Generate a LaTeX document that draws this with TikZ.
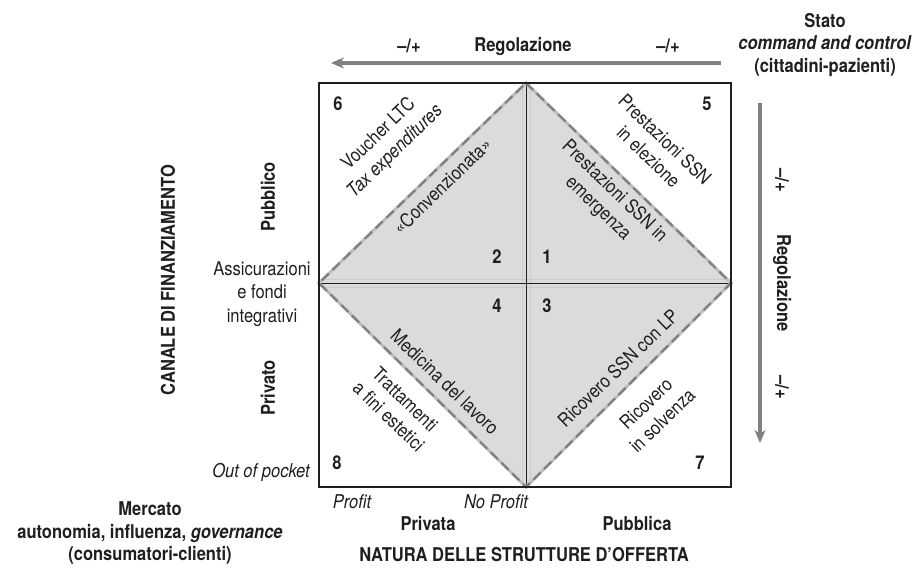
\documentclass[tikz,border=0pt]{standalone}
\usepackage{fontspec}
\setmainfont{TeX Gyre Heros}[FakeStretch=0.87]
\usetikzlibrary{arrows.meta}
\definecolor{arrowgray}{gray}{0.5}
\definecolor{diafill}{gray}{0.86}
\definecolor{edgelight}{gray}{0.74}
\definecolor{edgedark}{gray}{0.5}
\definecolor{inkc}{gray}{0.12}
\begin{document}
\begin{tikzpicture}[x=1pt,y=-1pt,
  nt/.style={font=\fontsize{19}{23.5}\selectfont, text=inkc, inner sep=0pt, align=center},
  bt/.style={font=\fontsize{19}{22.5}\selectfont\bfseries, text=inkc, inner sep=0pt, align=center},
  it/.style={font=\fontsize{19}{23}\selectfont\itshape, text=inkc, inner sep=0pt, align=center},
  bigarrow/.style={line width=3.6pt, arrowgray, -{Stealth[length=13pt,width=11pt,inset=4pt]}},
  frame/.style={draw=inkc, line width=1.3pt},
  midline/.style={draw=inkc, line width=1pt},
  hiline/.style={draw=gray!40, line width=0.9pt},
  edgebase/.style={draw=edgelight, line width=3pt},
  edgedash/.style={draw=edgedark, line width=2.2pt, dash pattern=on 10pt off 5pt}
]
\useasboundingbox (0,0) rectangle (920,568);
% corners
\coordinate (TL) at (319,83);
\coordinate (BR) at (731,487);
\coordinate (T) at (526,83);
\coordinate (R) at (731,283);
\coordinate (B) at (526,487);
\coordinate (L) at (319,283);
% diamond fill
\fill[diafill] (T) -- (R) -- (B) -- (L) -- cycle;
\begin{scope}
  \clip (T) -- (R) -- (B) -- (L) -- cycle;
  \draw[hiline] (522,83) -- (522,487);
  \draw[hiline] (530,83) -- (530,487);
  \draw[hiline] (319,279) -- (731,279);
  \draw[hiline] (319,287) -- (731,287);
\end{scope}
% centre lines
\draw[midline] (T) -- (B);
\draw[midline] (L) -- (R);
% diamond edges
\draw[edgebase] (T) -- (R) -- (B) -- (L) -- cycle;
\draw[edgedash] (T) -- (R) -- (B) -- (L) -- cycle;
% frame
\draw[frame] (TL) rectangle (BR);

% arrows
\coordinate (atail) at (721,63);
\coordinate (ahead) at (331,63);
\draw[bigarrow] (atail) -- (ahead);
\coordinate (rtail) at (760,103);
\coordinate (rhead) at (760,443);
\draw[bigarrow] (rtail) -- (rhead);

% top labels
\node[bt] (pmtl) at (409,46) {--/+};
\node[bt] (regtop) at (523,46) {Regolazione};
\node[bt] (pmtr) at (668,46) {--/+};
\node[bt] (stato) at (825,45) {Stato\\\textit{command and control}\\(cittadini-pazienti)};

% right labels
\node[bt, rotate=-90] (pmr1) at (782,180) {--/+};
\node[bt, rotate=-90] (regright) at (782,283) {Regolazione};
\node[bt, rotate=-90] (pmr2) at (782,387) {--/+};

% left labels
\node[bt, rotate=90] (canale) at (168,280) {CANALE DI FINANZIAMENTO};
\node[bt, rotate=90] (pubblico) at (268,197) {Pubblico};
\node[bt, rotate=90] (privato) at (268,388) {Privato};
\node[nt] (assic) at (262,294) {Assicurazioni\\e fondi\\integrativi};
\node[it] (oop) at (261,472) {Out of pocket};

% bottom labels
\node[bt] (mercato) at (150,533) {Mercato\\autonomia, influenza, \textit{governance}\\(consumatori-clienti)};
\node[it] (profit) at (352,502) {Profit};
\node[it] (noprofit) at (496,502) {No Profit};
\node[bt] (privata) at (428,523) {Privata};
\node[bt] (pubblica) at (637,523) {Pubblica};
\node[bt] (natura) at (524,555) {NATURA DELLE STRUTTURE D’OFFERTA};

% numbers
\node[bt] (n6) at (338,104) {6};
\node[bt] (n5) at (707,104) {5};
\node[bt] (n2) at (497,257) {2};
\node[bt] (n1) at (547,257) {1};
\node[bt] (n4) at (497,306) {4};
\node[bt] (n3) at (547,306) {3};
\node[bt] (n8) at (337,463) {8};
\node[bt] (n7) at (700,463) {7};

% diagonal labels
\node[nt, rotate=44] (voucher) at (387,143) {Voucher LTC\\\textit{Tax expenditures}};
\node[nt, rotate=44] (conv) at (442,186) {«Convenzionata»};
\node[nt, rotate=-44] (elez) at (657,148) {Prestazioni SSN\\in elezione};
\node[nt, rotate=-44] (emerg) at (606,200) {Prestazioni SSN in\\emergenza};
\node[nt, rotate=-44] (medlav) at (445,382) {Medicina del lavoro};
\node[nt, rotate=-44] (estet) at (397,408) {Trattamenti\\a fini estetici};
\node[nt, rotate=44] (riclp) at (618,368) {Ricovero SSN con LP};
\node[nt, rotate=44] (solv) at (654,412) {Ricovero\\in solvenza};
\end{tikzpicture}
\end{document}
